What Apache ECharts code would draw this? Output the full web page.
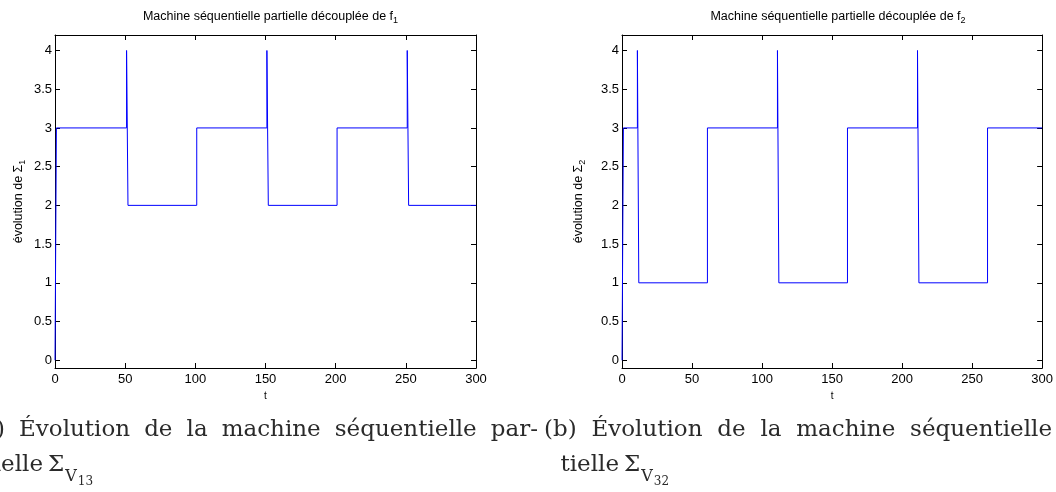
<!DOCTYPE html>
<html>
<head>
<meta charset="utf-8">
<script src="https://cdn.jsdelivr.net/npm/echarts@6/dist/echarts.min.js"></script>
<style>
html,body{margin:0;padding:0;background:#fff;}
#c{width:1056px;height:492px;}
</style>
</head>
<body>
<div id="c"></div>
<script>
// ---- data ----
const xTicks = [0, 50, 100, 150, 200, 250, 300];
const yTickValues = [0, 0.5, 1, 1.5, 2, 2.5, 3, 3.5, 4];
const yTickLabels = ['0', '0.5', '1', '1.5', '2', '2.5', '3', '3.5', '4'];

// plot (a): change times and the value held from that time on
const t1 = [0, 1, 51, 52, 101, 151, 152, 201, 251, 252, 300];
const v1 = [0, 3, 4, 2, 3, 4, 2, 3, 4, 2, 2];

// plot (b)
const t2 = [0, 1, 11, 12, 61, 111, 112, 161, 211, 212, 261, 300];
const v2 = [0, 3, 4, 1, 3, 4, 1, 3, 4, 1, 3, 3];

const titles = ['Machine séquentielle partielle découplée de f', 'Machine séquentielle partielle découplée de f'];
const titleSubs = ['1', '2'];
const yNames = ['évolution de Σ', 'évolution de Σ'];
const yNameSubs = ['1', '2'];
const xName = 't';

const cap1Line1 = ['(a)', 'Évolution', 'de', 'la', 'machine', 'séquentielle', 'par-'];
const cap2Line1 = ['(b)', 'Évolution', 'de', 'la', 'machine', 'séquentielle', 'par-'];
const capLine2 = 'tielle';
const capSigma = 'Σ';
const capSubV = 'V';
const cap1Sub = '13';
const cap2Sub = '32';

// ---- chart ----
const chart = echarts.init(document.getElementById('c'), null, {renderer: 'canvas'});
const sans = 'Liberation Sans, Arial, Helvetica, sans-serif';
const serif = 'DejaVu Serif, serif';

const grids = [
  {left: 55, top: 35, width: 421, height: 333},
  {left: 622, top: 35, width: 422, height: 333}
];

const xAxes = [], yAxes = [], series = [], titleArr = [];
const nameGaps = [28, 35];
[ [t1, v1], [t2, v2] ].forEach((d, i) => {
  const axisLine = {show: true, onZero: false, lineStyle: {color: '#000', width: 1}};
  xAxes.push({
    type: 'value', gridIndex: i, min: 0, max: 300, interval: 50, position: 'bottom',
    axisLine, splitLine: {show: false},
    axisTick: {inside: true, length: 5, lineStyle: {color: '#000'}},
    axisLabel: {color: '#000', fontFamily: sans, fontSize: 13, margin: 5},
    name: xName, nameLocation: 'middle', nameGap: 21,
    nameTextStyle: {color: '#000', fontFamily: sans, fontSize: 10}
  });
  xAxes.push({
    type: 'value', gridIndex: i, min: 0, max: 300, interval: 50, position: 'top',
    axisLine, splitLine: {show: false},
    axisTick: {inside: true, length: 5, lineStyle: {color: '#000'}},
    axisLabel: {show: false}
  });
  yAxes.push({
    type: 'value', gridIndex: i, min: -0.1, max: 4.2, position: 'left',
    axisLine, splitLine: {show: false},
    axisTick: {inside: true, length: 5, customValues: yTickValues, lineStyle: {color: '#000'}},
    axisLabel: {color: '#000', fontFamily: sans, fontSize: 13, margin: 3,
      customValues: yTickValues,
      formatter: v => { const k = yTickValues.indexOf(v); return k >= 0 ? yTickLabels[k] : ''; }},
    name: '{a|' + yNames[i] + '}{s|' + yNameSubs[i] + '}',
    nameLocation: 'middle', nameRotate: 90, nameGap: nameGaps[i],
    nameTextStyle: {
      color: '#000', fontFamily: sans, fontSize: 12.5,
      rich: {
        a: {fontFamily: sans, fontSize: 12.5, color: '#000', lineHeight: 16},
        s: {fontFamily: sans, fontSize: 9, color: '#000', lineHeight: 9, verticalAlign: 'bottom'}
      }
    }
  });
  yAxes.push({
    type: 'value', gridIndex: i, min: -0.1, max: 4.2, position: 'right',
    axisLine, splitLine: {show: false},
    axisTick: {inside: true, length: 5, customValues: yTickValues, lineStyle: {color: '#000'}},
    axisLabel: {show: false, customValues: yTickValues}
  });
  series.push({
    type: 'line', xAxisIndex: 2 * i, yAxisIndex: 2 * i, step: 'end',
    data: d[0].map((t, k) => [t, d[1][k]]),
    symbol: 'none', showSymbol: false, animation: false, clip: false,
    lineStyle: {color: '#0000ff', width: 1}
  });
  const g = grids[i];
  titleArr.push({
    text: '{a|' + titles[i] + '}{s|' + titleSubs[i] + '}',
    left: g.left + g.width / 2, top: 3, textAlign: 'center',
    textStyle: {
      fontFamily: sans, fontSize: 12.5, fontWeight: 'normal', color: '#000',
      rich: {
        a: {fontFamily: sans, fontSize: 12.5, color: '#000', lineHeight: 17},
        s: {fontFamily: sans, fontSize: 9, color: '#000', lineHeight: 9, verticalAlign: 'bottom'}
      }
    }
  });
});

// ---- captions (justified words) ----
const capFont = 23;
const ctx = document.createElement('canvas').getContext('2d');
ctx.font = capFont + 'px ' + serif;
const w = s => ctx.measureText(s).width;
const capColor = '#2a2a2a';
const graphics = [];
function word(text, x, yMid, size, align) {
  graphics.push({type: 'text', silent: true, style: {
    text, x, y: yMid, fill: capColor, font: size + 'px ' + serif,
    textAlign: align || 'left', textVerticalAlign: 'middle'}});
}
const line1Y = 430, line2Y = 465;
// left caption line 1: from "Évolution" to end of "par-"
(function () {
  const words = cap1Line1;
  const start = 19, end = 538;
  let sum = 0; for (let k = 1; k < words.length; k++) sum += w(words[k]);
  const gap = (end - start - sum) / (words.length - 2);
  word(words[0], start - gap, line1Y, capFont, 'right');
  let x = start;
  for (let k = 1; k < words.length; k++) { word(words[k], x, line1Y, capFont); x += w(words[k]) + gap; }
})();
// right caption line 1: from "(b)" to end of "séquentielle"
(function () {
  const words = cap2Line1;
  const start = 544, end = 1052;
  let sum = 0; for (let k = 0; k < words.length - 1; k++) sum += w(words[k]);
  const gap = (end - start - sum) / (words.length - 2);
  let x = start;
  for (let k = 0; k < words.length; k++) { word(words[k], x, line1Y, capFont); x += w(words[k]) + gap; }
})();
// line 2
[[43, cap1Sub], [619, cap2Sub]].forEach(([xe, sub]) => {
  word(capLine2, xe, line2Y, capFont, 'right');
  word(capSigma, xe + 5, line2Y, capFont);
  const sx = xe + 5 + w(capSigma) + 1;
  word(capSubV, sx, 476.5, 16);
  ctx.font = '16px ' + serif;
  const vx = sx + ctx.measureText(capSubV).width;
  ctx.font = capFont + 'px ' + serif;
  word(sub, vx + 1, 482, 12);
});

chart.setOption({
  backgroundColor: '#fff',
  animation: false,
  title: titleArr,
  grid: grids,
  xAxis: xAxes,
  yAxis: yAxes,
  series,
  graphic: graphics
});
</script>
</body>
</html>
